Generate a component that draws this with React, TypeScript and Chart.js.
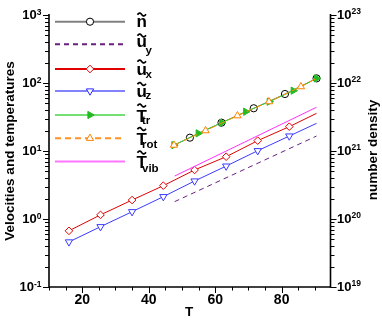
import React, { useEffect, useRef } from 'react';
import { Chart, registerables } from 'chart.js';

Chart.register(...registerables);

const FONT = '"Liberation Sans", Arial, Helvetica, sans-serif';

// ---------------- data ----------------
const uxT = [16, 25.5, 35, 44.4, 53.8, 63.3, 72.8, 82.3, 90.5];
const uxValues = [0.67, 1.15, 1.9, 3.09, 5.26, 8.24, 14.2, 22.8, 35.8];
const uzT = [16, 25.5, 35, 44.4, 53.8, 63.3, 72.8, 82.3, 90.5];
const uzValues = [0.46, 0.77, 1.28, 2.13, 3.62, 6.0, 10.1, 16.6, 25.5];
const uyT = [47.8, 90.5];
const uyValues = [1.8, 16.6];
const vibT = [47.8, 90.5];
const vibValues = [4.28, 44.0];
const trT = [47.6, 54.9, 62.0, 69.2, 76.3, 83.5, 90.5];
const trValues = [12.2, 18.2, 26.1, 37.8, 53.1, 77.1, 117];
const rotT = [47.6, 57.1, 66.7, 76.2, 85.8, 90.5];
const rotValues = [12.2, 19.9, 33.0, 53.1, 88.3, 117];
const nT = [47.6, 52.4, 61.9, 71.6, 81.0, 90.5];
const nValues = [1.22e21, 1.57e21, 2.61e21, 4.25e21, 6.89e21, 1.17e22];

const xTickLabels = [20, 40, 60, 80];
const leftExponents = [-1, 0, 1, 2, 3];
const rightExponents = [19, 20, 21, 22, 23];

// ---------------- styles ----------------
const COLORS = {
  n: '#808080',
  uy: '#6a2080',
  ux: '#e00000',
  uz: '#3a3aff',
  tr: '#2ecc2e',
  rot: '#ff8c00',
  vib: '#ff30ff',
};

const pts = (xs: number[], ys: number[]) => xs.map((x, i) => ({ x, y: ys[i] }));
const radii = (len: number, r: number, hidden: number[]) =>
  Array.from({ length: len }, (_, i) => (hidden.includes(i) ? 0 : r));

type MarkerStyle = 'circle' | 'diamond' | 'triDown' | 'triRight' | 'triUp' | 'none';

function drawMarker(ctx: CanvasRenderingContext2D, style: MarkerStyle, x: number, y: number, r: number, fill: string, stroke: string) {
  if (style === 'none') return;
  ctx.save();
  ctx.beginPath();
  if (style === 'circle') {
    ctx.arc(x, y, r, 0, Math.PI * 2);
  } else if (style === 'diamond') {
    ctx.moveTo(x, y - r);
    ctx.lineTo(x + r, y);
    ctx.lineTo(x, y + r);
    ctx.lineTo(x - r, y);
    ctx.closePath();
  } else {
    let a = style === 'triUp' ? 0 : style === 'triRight' ? Math.PI / 2 : Math.PI;
    ctx.moveTo(x + Math.sin(a) * r, y - Math.cos(a) * r);
    a += (2 * Math.PI) / 3;
    ctx.lineTo(x + Math.sin(a) * r, y - Math.cos(a) * r);
    a += (2 * Math.PI) / 3;
    ctx.lineTo(x + Math.sin(a) * r, y - Math.cos(a) * r);
    ctx.closePath();
  }
  ctx.fillStyle = fill;
  ctx.fill();
  ctx.strokeStyle = stroke;
  ctx.lineWidth = 1;
  ctx.setLineDash([]);
  ctx.stroke();
  ctx.restore();
}

const legendRows = [
  { base: 'n', sub: '', color: '#808080', dash: [] as number[], marker: 'circle' as MarkerStyle, mFill: '#ffffff', mStroke: '#000000', r: 3.6, lineY: 21.7, baseY: 26.7, tildeY: 14.5, subY: 0, subX: 0 },
  { base: 'u', sub: 'y', color: '#6a2080', dash: [5, 4], marker: 'none' as MarkerStyle, mFill: '', mStroke: '', r: 0, lineY: 44.3, baseY: 47.3, tildeY: 35.5, subY: 54.3, subX: 145.5 },
  { base: 'u', sub: 'x', color: '#e00000', dash: [], marker: 'diamond' as MarkerStyle, mFill: '#ffffff', mStroke: '#e00000', r: 3.8, lineY: 69, baseY: 75, tildeY: 61.5, subY: 77.5, subX: 145.5 },
  { base: 'u', sub: 'z', color: '#8282ff', dash: [], marker: 'triDown' as MarkerStyle, mFill: '#ffffff', mStroke: '#2a2aff', r: 4.2, lineY: 91, baseY: 96.7, tildeY: 84, subY: 98.5, subX: 145.5 },
  { base: 'T', sub: 'tr', color: '#74e074', dash: [], marker: 'triRight' as MarkerStyle, mFill: '#22bb22', mStroke: '#22bb22', r: 4.2, lineY: 115, baseY: 122, tildeY: 105.5, subY: 124, subX: 142 },
  { base: 'T', sub: 'rot', color: '#ff9326', dash: [6, 4], marker: 'triUp' as MarkerStyle, mFill: '#ffffff', mStroke: '#ff8000', r: 4.2, lineY: 138.3, baseY: 145, tildeY: 129, subY: 148, subX: 142 },
  { base: 'T', sub: 'vib', color: '#ff77ff', dash: [], marker: 'none' as MarkerStyle, mFill: '', mStroke: '', r: 0, lineY: 161.5, baseY: 168, tildeY: 152.5, subY: 172, subX: 142 },
];

function drawTilde(ctx: CanvasRenderingContext2D, cx: number, cy: number, w: number) {
  ctx.save();
  ctx.beginPath();
  const steps = 16;
  for (let i = 0; i <= steps; i++) {
    const t = i / steps;
    const x = cx - w / 2 + t * w;
    const y = cy - 1.6 * Math.sin(2 * Math.PI * t) + 0.6 * (0.5 - t);
    if (i === 0) ctx.moveTo(x, y);
    else ctx.lineTo(x, y);
  }
  ctx.lineWidth = 1.7;
  ctx.strokeStyle = '#000';
  ctx.setLineDash([]);
  ctx.stroke();
  ctx.restore();
}

const decorPlugin = {
  id: 'decor',
  afterDraw(chart: any) {
    const ctx: CanvasRenderingContext2D = chart.ctx;
    const { left, right, top, bottom } = chart.chartArea;
    const xs = chart.scales.x;
    const yl = chart.scales.y;
    const yr = chart.scales.y2;
    ctx.save();
    ctx.strokeStyle = '#000';
    ctx.fillStyle = '#000';
    ctx.setLineDash([]);

    const seg = (x1: number, y1: number, x2: number, y2: number, w: number) => {
      ctx.beginPath();
      ctx.lineWidth = w;
      ctx.moveTo(x1, y1);
      ctx.lineTo(x2, y2);
      ctx.stroke();
    };

    // axis lines
    seg(left, top - 1, left, bottom + 0.75, 1.6);
    seg(right, top - 1, right, bottom + 0.75, 1.6);
    seg(left, bottom, right, bottom, 1.6);

    // log ticks
    for (let e = -1; e <= 3; e++) {
      for (let m = 1; m <= 9; m++) {
        if (e === 3 && m > 1) break;
        const v = m * Math.pow(10, e);
        const y = Math.round(yl.getPixelForValue(v)) + 0.5;
        seg(left - (m === 1 ? 6 : 4), y, left, y, 1);
      }
    }
    for (let e = 19; e <= 23; e++) {
      for (let m = 1; m <= 9; m++) {
        if (e === 23 && m > 1) break;
        const v = m * Math.pow(10, e);
        const y = Math.round(yr.getPixelForValue(v)) + 0.5;
        seg(right, y, right + (m === 1 ? 6 : 4), y, 1);
      }
    }
    // x ticks
    for (let v = 10; v <= xs.max; v += 5) {
      const x = Math.round(xs.getPixelForValue(v)) + 0.5;
      seg(x, bottom, x, bottom + (v % 20 === 0 ? 6 : 3.5), 1);
    }

    // x labels
    ctx.font = `bold 14px ${FONT}`;
    ctx.textAlign = 'center';
    ctx.textBaseline = 'middle';
    xTickLabels.forEach((v) => {
      ctx.fillText(String(v), xs.getPixelForValue(v), bottom + 13.5);
    });

    // left labels
    leftExponents.forEach((e) => {
      const y = yl.getPixelForValue(Math.pow(10, e));
      const expStr = String(e).replace('-', '-');
      ctx.font = `bold 8.5px ${FONT}`;
      const ew = ctx.measureText(expStr).width;
      const xEnd = left - 7.5;
      ctx.textAlign = 'left';
      ctx.textBaseline = 'alphabetic';
      ctx.fillText(expStr, xEnd - ew, y - 0.5);
      ctx.font = `bold 13px ${FONT}`;
      ctx.textAlign = 'right';
      ctx.textBaseline = 'middle';
      ctx.fillText('10', xEnd - ew, y + 0.8);
    });

    // right labels
    rightExponents.forEach((e) => {
      const y = yr.getPixelForValue(Math.pow(10, e));
      ctx.font = `bold 13px ${FONT}`;
      ctx.textAlign = 'left';
      ctx.textBaseline = 'middle';
      const x0 = right + 6.5;
      ctx.fillText('10', x0, y + 0.8);
      const bw = ctx.measureText('10').width;
      ctx.font = `bold 8.5px ${FONT}`;
      ctx.textBaseline = 'alphabetic';
      ctx.fillText(String(e), x0 + bw, y - 1.5);
    });

    // axis titles
    ctx.font = `bold 13.5px ${FONT}`;
    ctx.textAlign = 'center';
    ctx.textBaseline = 'middle';
    ctx.fillText('T', 189, 312);
    ctx.save();
    ctx.translate(10.5, 151);
    ctx.rotate(-Math.PI / 2);
    ctx.fillText('Velocities and temperatures', 0, 0);
    ctx.restore();
    ctx.save();
    ctx.translate(373, 150);
    ctx.rotate(-Math.PI / 2);
    ctx.fillText('number density', 0, 0);
    ctx.restore();

    // legend
    legendRows.forEach((row) => {
      ctx.save();
      ctx.beginPath();
      ctx.strokeStyle = row.color;
      ctx.lineWidth = 2;
      ctx.setLineDash(row.dash);
      ctx.moveTo(55, row.lineY);
      ctx.lineTo(125, row.lineY);
      ctx.stroke();
      ctx.restore();
      drawMarker(ctx, row.marker, 90, row.lineY, row.r, row.mFill, row.mStroke);

      ctx.fillStyle = '#000';
      ctx.font = `bold 17px ${FONT}`;
      ctx.textAlign = 'left';
      ctx.textBaseline = 'alphabetic';
      const bx = 136.5;
      ctx.fillText(row.base, bx, row.baseY);
      const bw = ctx.measureText(row.base).width;
      drawTilde(ctx, bx + bw / 2, row.tildeY, 8.5);
      if (row.sub) {
        ctx.font = `bold 11.5px ${FONT}`;
        ctx.fillText(row.sub, row.subX, row.subY);
      }
    });

    ctx.restore();
  },
};

export default function App() {
  const ref = useRef<HTMLCanvasElement>(null);

  useEffect(() => {
    document.body.style.margin = '0';
    const canvas = ref.current;
    if (!canvas) return;

    const datasets: any[] = [
      {
        label: 'n',
        data: pts(nT, nValues),
        yAxisID: 'y2',
        borderColor: COLORS.n,
        borderWidth: 1,
        pointStyle: 'circle',
        pointRadius: radii(nT.length, 3.6, [0]),
        pointBackgroundColor: 'rgba(0,0,0,0)',
        pointBorderColor: '#000',
        pointBorderWidth: 1,
        order: 10,
      },
      {
        label: 'u_y',
        data: pts(uyT, uyValues),
        yAxisID: 'y',
        borderColor: COLORS.uy,
        borderWidth: 1,
        borderDash: [5, 4],
        pointRadius: 0,
        order: 8,
      },
      {
        label: 'u_x',
        data: pts(uxT, uxValues),
        yAxisID: 'y',
        borderColor: COLORS.ux,
        borderWidth: 1,
        pointStyle: 'rectRot',
        pointRadius: radii(uxT.length, 3.8, [uxT.length - 1]),
        pointBackgroundColor: '#fff',
        pointBorderColor: COLORS.ux,
        pointBorderWidth: 1,
        order: 7,
      },
      {
        label: 'u_z',
        data: pts(uzT, uzValues),
        yAxisID: 'y',
        borderColor: COLORS.uz,
        borderWidth: 1,
        pointStyle: 'triangle',
        pointRotation: 180,
        pointRadius: radii(uzT.length, 4.2, [uzT.length - 1]),
        pointBackgroundColor: '#fff',
        pointBorderColor: COLORS.uz,
        pointBorderWidth: 1,
        order: 7,
      },
      {
        label: 'T_tr',
        data: pts(trT, trValues),
        yAxisID: 'y',
        borderColor: COLORS.tr,
        borderWidth: 1,
        pointStyle: 'triangle',
        pointRotation: 90,
        pointRadius: radii(trT.length, 4.2, []),
        pointBackgroundColor: '#22bb22',
        pointBorderColor: '#22bb22',
        pointBorderWidth: 1,
        order: 5,
      },
      {
        label: 'T_rot',
        data: pts(rotT, rotValues),
        yAxisID: 'y',
        borderColor: COLORS.rot,
        borderWidth: 1,
        borderDash: [6, 4],
        pointStyle: 'triangle',
        pointRadius: radii(rotT.length, 4.2, [rotT.length - 1]),
        pointBackgroundColor: '#fff',
        pointBorderColor: '#ff8000',
        pointBorderWidth: 1,
        order: 4,
      },
      {
        label: 'T_vib',
        data: pts(vibT, vibValues),
        yAxisID: 'y',
        borderColor: COLORS.vib,
        borderWidth: 1,
        pointRadius: 0,
        order: 6,
      },
    ];

    const hiddenAxis = {
      ticks: { display: false, autoSkip: false },
      grid: { display: false, drawTicks: false },
      border: { display: false },
      title: { display: false },
    };

    const chart = new Chart(canvas, {
      type: 'line',
      data: { datasets },
      options: {
        responsive: false,
        devicePixelRatio: 1,
        animation: false,
        events: [],
        layout: { padding: { left: 49, right: 51.5, top: 15, bottom: 34 } },
        plugins: { legend: { display: false }, tooltip: { enabled: false } },
        elements: { line: { tension: 0 }, point: { hoverRadius: 0 } },
        scales: {
          x: { type: 'linear', min: 10, max: 94.7, ...hiddenAxis },
          y: { type: 'logarithmic', position: 'left', min: 0.1, max: 1000, ...hiddenAxis },
          y2: { type: 'logarithmic', position: 'right', min: 1e19, max: 1e23, ...hiddenAxis },
        },
      } as any,
      plugins: [decorPlugin],
    });

    return () => chart.destroy();
  }, []);

  return (
    <div style={{ width: 382, height: 321, position: 'relative' }}>
      <canvas ref={ref} width={382} height={321} style={{ display: 'block', width: 382, height: 321 }} />
    </div>
  );
}
